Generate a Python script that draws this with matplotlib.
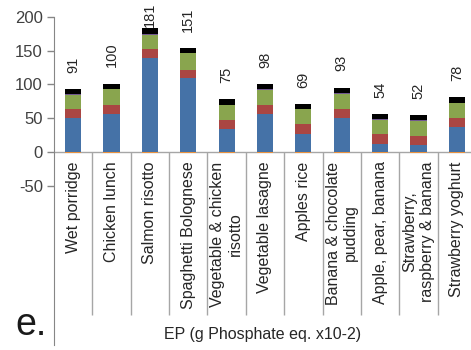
import matplotlib
matplotlib.use("Agg")
import matplotlib.pyplot as plt
import numpy as np

plt.rcParams['font.family'] = ['Liberation Sans', 'DejaVu Sans']
plt.rcParams['axes.unicode_minus'] = False

# categorias (rótulos do eixo x)
categorias = ["Wet porridge", "Chicken lunch", "Salmon risotto", "Spaghetti Bolognese",
              "Vegetable & chicken\nrisotto", "Vegetable lasagne", "Apples rice",
              "Banana & chocolate\npudding", "Apple, pear, banana",
              "Strawberry,\nraspberry & banana", "Strawberry yoghurt"]

# segmentos empilhados (g Phosphate eq. x10-2)
laranja = [-1.5, -1.5, -1.5, -1.5, -1.5, -1.5, -1.5, -1.5, -1.5, -1.5, -1.5]
azul = [51, 57, 139, 109, 34, 56, 27, 51, 12, 11, 37]
vermelho = [12, 13, 13, 13, 13, 14, 14, 13, 14, 13, 13]
verde = [22, 23, 22, 24, 22, 22, 22, 22, 22, 22, 22]
roxo = [1, 1, 1, 1, 1, 1, 1, 1, 1, 1, 1]
preto = [8, 7, 8, 7, 8, 7, 7, 8, 7, 8, 8]

# totais escritos acima das barras
totais = [91, 100, 181, 151, 75, 98, 69, 93, 54, 52, 78]

fig = plt.figure(figsize=(4.71, 3.5), dpi=100)
ax = fig.add_axes([54 / 471, 5 / 350, 422 / 471, 328 / 350])

x = np.arange(len(categorias))
largura = 0.42
ax.bar(x, laranja, largura, color='#E8913F', zorder=3)
base = np.zeros(len(categorias))
for serie, cor in [(azul, '#4572A7'), (vermelho, '#AA4643'), (verde, '#89A54E'),
                   (roxo, '#71588F'), (preto, '#000000')]:
    ax.bar(x, serie, largura, bottom=base, color=cor, zorder=3)
    base = base + np.array(serie)

for i, t in enumerate(totais):
    ax.text(i, min(t + 26.5, 185), str(t), rotation=90, ha='center', va='bottom',
            fontsize=10.5, color='#262626')

for i, c in enumerate(categorias):
    ax.text(i, -14, c, rotation=90, ha='center', va='top', multialignment='center',
            fontsize=11.5, color='#262626')

ax.set_xlim(-0.5, len(categorias) - 0.5)
ax.set_ylim(-286, 200)
ax.axhline(0, color='#A6A6A6', lw=1, zorder=2)
ax.vlines(np.arange(len(categorias)) + 0.5, -241, 0, color='#A6A6A6', lw=1)

ax.set_yticks([-50, 0, 50, 100, 150, 200])
ax.set_xticks([])
ax.tick_params(axis='y', length=5, width=1, color='#868686', labelsize=12,
               labelcolor='#404040', pad=3)
for lado in ['top', 'right', 'bottom']:
    ax.spines[lado].set_visible(False)
ax.spines['left'].set_color('#868686')

fig.text(263 / 471, 1 - 334 / 350, 'EP (g Phosphate eq. x10-2)', ha='center', va='center',
         fontsize=11.5, color='#262626')
fig.text(15 / 471, 1 - 335 / 350, 'e.', ha='left', va='baseline', fontsize=27, color='#1a1a1a')

fig.savefig('out.png', dpi=100)
